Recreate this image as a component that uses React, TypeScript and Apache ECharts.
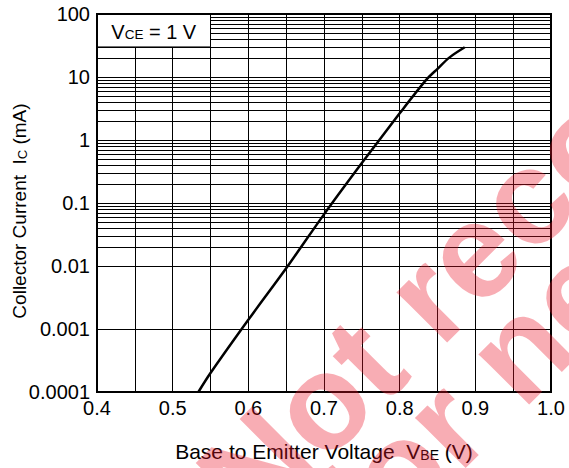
import React, { useEffect, useRef } from 'react';
import * as echarts from 'echarts';

// ---- data ----
const vbe = [0.534, 0.55, 0.6, 0.65, 0.7, 0.75, 0.8, 0.835, 0.85, 0.866, 0.886];
const ic = [0.0001, 0.0002, 0.0014, 0.0092, 0.066, 0.43, 2.65, 9.0, 13.5, 20.5, 29.6];

const xTickLabels = ['0.4', '0.5', '0.6', '0.7', '0.8', '0.9', '1.0'];
const yTickLabels = ['0.0001', '0.001', '0.01', '0.1', '1', '10', '100'];
const decades = [0.0001, 0.001, 0.01, 0.1, 1, 10];
const minorMultipliers = [2, 3, 4, 5, 6, 7, 8, 9];
const boxX = [0.4, 0.55];
const boxY = [30, 100];

const X_MIN = 0.4;
const X_MAX = 1.0;
const X_STEP = 0.05;
const Y_MIN = 0.0001;
const Y_MAX = 100;

const W = 569;
const H = 468;
const GRID = { left: 97, top: 14, right: 18, bottom: 76 };
const FONT = '"Liberation Sans", Arial, Helvetica, sans-serif';
const WM_COLOR = 'rgba(235,20,40,0.35)';

export default function App() {
  const ref = useRef<HTMLDivElement>(null);

  useEffect(() => {
    if (!ref.current) return;
    const chart = echarts.init(ref.current, null, { renderer: 'svg' });

    const minorLines = decades.flatMap((d) => minorMultipliers.map((m) => m * d));
    const curve = vbe.map((v, i) => [v, ic[i]]);

    const option: any = {
      animation: false,
      backgroundColor: '#fff',
      textStyle: { fontFamily: FONT, color: '#000' },
      grid: { ...GRID, containLabel: false, outerBoundsMode: 'none', show: false },
      xAxis: {
        type: 'value',
        min: X_MIN,
        max: X_MAX,
        interval: X_STEP,
        axisLine: { show: false },
        axisTick: { show: false },
        splitLine: { show: true, lineStyle: { color: '#000', width: 1 } },
        axisLabel: {
          color: '#000',
          fontSize: 20,
          fontFamily: FONT,
          margin: 6,
          formatter: (v: number) => {
            const k = Math.round((v - X_MIN) / X_STEP);
            return k % 2 === 0 ? xTickLabels[k / 2] ?? '' : '';
          },
        },
        name: '{a|Base to Emitter Voltage  V}{s|BE}{a| (V)}',
        nameLocation: 'middle',
        nameGap: 46,
        nameMoveOverlap: false,
        nameTextStyle: {
          rich: {
            a: { fontSize: 21, fontFamily: FONT, color: '#000', lineHeight: 24, verticalAlign: 'bottom' },
            s: { fontSize: 14, fontFamily: FONT, color: '#000', lineHeight: 17, verticalAlign: 'bottom' },
          },
        },
      },
      yAxis: {
        type: 'log',
        logBase: 10,
        min: Y_MIN,
        max: Y_MAX,
        axisLine: { show: false },
        axisTick: { show: false },
        splitLine: { show: true, lineStyle: { color: '#000', width: 1 } },
        axisLabel: {
          color: '#000',
          fontSize: 20,
          fontFamily: FONT,
          margin: 7,
          formatter: (v: number) => {
            const k = Math.round(Math.log10(v) - Math.log10(Y_MIN));
            return yTickLabels[k] ?? '';
          },
        },
        name: '{a|Collector Current  I}{s|C}{a| (mA)}',
        nameLocation: 'middle',
        nameGap: 68,
        nameRotate: 90,
        nameMoveOverlap: false,
        nameTextStyle: {
          padding: [0, 16, 0, 0],
          rich: {
            a: { fontSize: 19, fontFamily: FONT, color: '#000', lineHeight: 22, verticalAlign: 'bottom' },
            s: { fontSize: 13, fontFamily: FONT, color: '#000', lineHeight: 15, verticalAlign: 'bottom' },
          },
        },
      },
      series: [
        {
          type: 'line',
          data: curve,
          z: 3,
          smooth: 0.3,
          showSymbol: false,
          symbol: 'none',
          silent: true,
          lineStyle: { color: '#000', width: 2.5 },
          markLine: {
            z: 1,
            silent: true,
            symbol: ['none', 'none'],
            label: { show: false },
            lineStyle: { color: '#000', width: 1, type: 'solid' },
            emphasis: { disabled: true },
            data: minorLines.map((y) => ({ yAxis: y })),
          },
          markArea: {
            z: 2,
            silent: true,
            itemStyle: { color: '#fff', borderColor: '#000', borderWidth: 1, opacity: 1 },
            label: {
              show: true,
              position: 'inside',
              formatter: '{v|V}{s|CE}{v| = 1 V}',
              rich: {
                v: { fontSize: 20, fontFamily: FONT, color: '#000', lineHeight: 23, verticalAlign: 'bottom' },
                s: { fontSize: 13.5, fontFamily: FONT, color: '#000', lineHeight: 16, verticalAlign: 'bottom' },
              },
            },
            emphasis: { disabled: true },
            data: [[{ xAxis: boxX[0], yAxis: boxY[1] }, { xAxis: boxX[1], yAxis: boxY[0] }]],
          },
        },
      ],
      graphic: [
        {
          type: 'rect',
          silent: true,
          z: 10,
          shape: {
            x: GRID.left,
            y: GRID.top,
            width: W - GRID.left - GRID.right,
            height: H - GRID.top - GRID.bottom,
          },
          style: { fill: 'none', stroke: '#000', lineWidth: 2 },
        },
        {
          type: 'text',
          silent: true,
          z: 20,
          x: 222,
          y: 502,
          rotation: Math.PI / 4,
          style: {
            text: 'Not recommended',
            fontSize: 135,
            fontWeight: 'bold',
            fontFamily: FONT,
            fill: WM_COLOR,
            align: 'left',
            verticalAlign: 'middle',
          },
        },
        {
          type: 'text',
          silent: true,
          z: 20,
          x: 336,
          y: 532,
          rotation: Math.PI / 4,
          style: {
            text: 'for new design',
            fontSize: 135,
            fontWeight: 'bold',
            fontFamily: FONT,
            fill: WM_COLOR,
            align: 'left',
            verticalAlign: 'middle',
          },
        },
      ],
    };

    chart.setOption(option);
    return () => chart.dispose();
  }, []);

  return (
    <div
      ref={ref}
      style={{ position: 'absolute', left: 0, top: 0, width: W, height: H, background: '#fff' }}
    />
  );
}
